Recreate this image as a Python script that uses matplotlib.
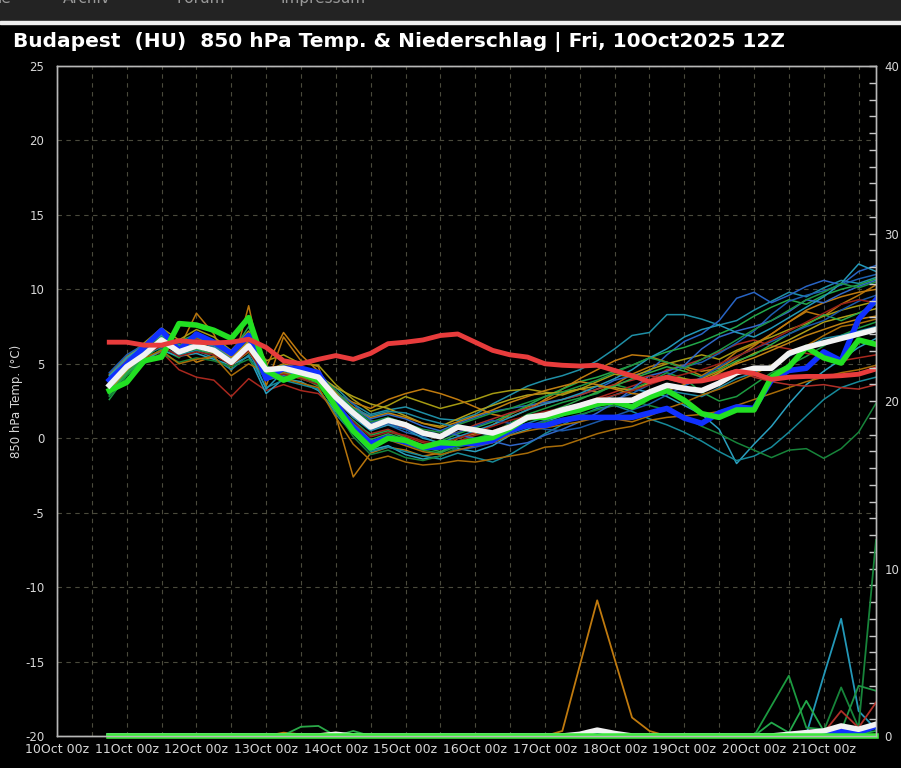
import matplotlib
matplotlib.use("Agg")
import matplotlib.pyplot as plt
import matplotlib.dates as mdates
from matplotlib.patches import Rectangle
from matplotlib.ticker import MultipleLocator
import pandas as pd

plt.rcParams["axes.unicode_minus"] = False

# 6-hourly steps, 10Oct 18z .. 21Oct 18z
times = pd.date_range("2025-10-10 18:00", "2025-10-21 18:00", freq="6h")

# 850 hPa temperature (deg C)
temp_clim = [6.45, 6.45, 6.25, 6.25, 6.55, 6.45, 6.4, 6.45, 6.65, 6.1, 5.2, 5.0, 5.3, 5.55, 5.3,
             5.7, 6.35, 6.45, 6.6, 6.9, 7.0, 6.45, 5.9, 5.6, 5.45, 5.0, 4.9, 4.85, 4.9, 4.55,
             4.2, 3.8, 4.1, 3.8, 3.85, 4.1, 4.5, 4.35, 3.95, 4.1, 4.15, 4.15, 4.2, 4.3, 4.65]
temp_mean = [3.55, 4.8, 5.6, 6.6, 5.8, 6.2, 5.9, 5.1, 6.2, 4.6, 4.7, 4.4, 4.1, 2.75, 1.7,
             0.75, 1.2, 0.9, 0.35, 0.1, 0.75, 0.55, 0.35, 0.75, 1.4, 1.55, 1.9, 2.2, 2.55, 2.55,
             2.55, 3.1, 3.55, 3.35, 3.2, 3.7, 4.4, 4.7, 4.7, 5.7, 6.1, 6.4, 6.7, 7.0, 7.3]
temp_oper = [3.9, 5.0, 6.1, 7.25, 5.9, 7.0, 6.45, 5.7, 6.9, 4.0, 4.7, 4.7, 4.4, 2.35, 0.75,
             -0.35, 0.05, -0.25, -0.6, -0.6, -0.35, -0.35, -0.15, 0.55, 0.85, 0.85, 1.2, 1.4, 1.4, 1.4,
             1.4, 1.7, 2.0, 1.35, 1.0, 1.7, 2.1, 2.0, 3.9, 4.55, 4.7, 5.8, 5.2, 8.0, 9.3]
temp_ctrl = [3.2, 3.75, 5.2, 5.45, 7.7, 7.6, 7.25, 6.7, 8.1, 4.55, 3.9, 4.35, 3.9, 2.1, 0.5,
             -0.65, 0.0, -0.15, -0.6, -0.3, -0.35, -0.15, 0.05, 0.65, 1.4, 1.4, 1.65, 1.9, 2.3, 2.45,
             2.1, 2.75, 3.2, 2.55, 1.65, 1.4, 1.9, 1.9, 4.1, 4.8, 6.1, 5.4, 5.05, 6.6, 6.3]

temp_members = [
    [4.3, 5.5, 6.2, 7.0, 6.0, 8.4, 7.0, 4.5, 8.9, 3.5, 6.8, 5.2, 4.8, 1.5, -2.6, -1.0, -0.6, -0.8, -1.2, -1.0, 0.0, 0.3, 0.9,
     1.6, 2.1, 2.5, 3.0, 3.3, 3.1, 3.6, 4.3, 4.8, 5.1, 4.7, 4.2, 4.9, 5.8, 6.3, 7.0, 7.8, 8.5, 8.2, 9.0, 9.6, 10.3],
    [3.8, 5.1, 6.0, 6.6, 6.3, 6.0, 5.6, 5.0, 5.8, 3.9, 4.9, 4.3, 4.2, 3.4, 2.3, 1.6, 1.9, 2.1, 1.7, 1.3, 1.2, 1.6, 2.3,
     2.9, 3.5, 3.9, 4.2, 4.6, 5.2, 6.0, 6.9, 7.1, 8.3, 8.3, 8.0, 7.6, 7.9, 8.6, 9.2, 9.8, 9.5, 10.1, 10.6, 10.4, 10.8],
    [2.6, 4.2, 5.2, 6.0, 5.4, 6.4, 6.0, 5.3, 6.6, 4.9, 4.1, 4.5, 3.8, 2.2, 0.8, -0.3, 0.2, -0.4, -0.8, -1.0, -0.5, -0.2, 0.4,
     1.0, 1.6, 2.0, 2.4, 2.7, 3.0, 3.6, 3.3, 3.8, 4.4, 4.0, 3.1, 2.5, 2.8, 3.6, 4.4, 4.9, 5.5, 6.2, 6.9, 7.4, 7.8],
    [4.1, 5.3, 6.1, 7.1, 6.2, 6.6, 6.4, 5.6, 6.8, 4.2, 4.5, 4.6, 4.3, 3.0, 1.9, 1.0, 1.4, 0.8, 0.3, 0.5, 1.0, 1.4, 1.8,
     2.0, 2.2, 2.4, 2.6, 2.9, 3.3, 3.9, 4.2, 4.5, 5.6, 6.5, 7.0, 7.9, 9.4, 9.8, 9.1, 9.6, 10.2, 10.6, 10.3, 11.2, 11.6],
    [3.4, 4.6, 5.3, 5.8, 4.6, 4.1, 3.9, 2.8, 4.0, 3.2, 3.6, 3.2, 3.0, 1.9, 0.9, 0.3, 0.6, 0.1, -0.3, -0.6, -0.2, 0.2, 0.5,
     0.9, 1.2, 1.5, 1.9, 2.3, 2.7, 3.1, 3.5, 3.9, 4.6, 4.9, 5.3, 5.8, 6.3, 6.6, 6.2, 6.0, 5.7, 5.5, 5.2, 5.4, 5.6],
    [3.9, 5.4, 6.4, 7.4, 6.6, 7.3, 6.8, 5.9, 7.2, 5.2, 5.6, 5.0, 4.9, 3.6, 2.6, 1.8, 2.2, 2.8, 2.4, 2.0, 2.3, 2.6, 3.0,
     3.2, 3.3, 3.1, 2.9, 3.3, 3.8, 4.3, 4.1, 4.6, 5.0, 5.3, 5.6, 5.3, 5.9, 6.4, 6.8, 7.3, 7.7, 8.2, 8.6, 8.9, 9.2],
    [3.1, 4.4, 5.2, 5.9, 5.5, 5.7, 5.3, 4.9, 5.5, 3.0, 4.0, 3.8, 3.2, 1.8, 0.4, -0.8, -0.5, -1.1, -1.4, -1.2, -0.7, -0.9, -0.5,
     0.2, 0.6, 1.1, 1.5, 2.0, 2.4, 2.9, 3.3, 3.1, 2.8, 2.2, 1.6, 0.6, -1.7, -0.4, 0.8, 2.3, 3.6, 4.5, 5.3, 6.1, 6.7],
    [3.7, 4.9, 5.8, 6.9, 6.0, 5.1, 5.5, 5.2, 6.3, 4.8, 7.1, 5.6, 4.5, 3.0, 2.4, 2.0, 2.6, 3.0, 3.3, 3.0, 2.6, 2.1, 1.6,
     1.4, 1.9, 2.6, 3.3, 4.0, 4.6, 5.2, 5.6, 5.5, 5.1, 4.8, 4.5, 4.7, 5.4, 6.2, 7.0, 7.8, 8.6, 9.1, 9.5, 9.8, 10.0],
    [2.9, 4.3, 5.4, 6.2, 6.5, 7.0, 6.5, 5.7, 7.5, 4.4, 4.3, 4.1, 3.5, 2.2, 1.2, 0.2, 0.5, 0.0, -0.5, -0.2, 0.3, 0.7, 1.1,
     1.6, 2.2, 2.8, 3.3, 3.8, 4.1, 4.5, 4.9, 5.4, 5.8, 6.1, 6.5, 7.0, 7.5, 8.2, 8.8, 9.3, 9.0, 9.6, 10.0, 10.3, 10.7],
    [4.4, 5.6, 6.3, 6.7, 6.4, 6.6, 6.1, 5.5, 6.4, 4.3, 4.6, 4.2, 3.9, 3.1, 2.3, 1.2, 0.9, 0.4, 0.1, -0.4, -0.8, -0.6, -0.3,
     0.3, 0.8, 1.2, 1.6, 1.9, 2.1, 2.6, 3.0, 3.6, 4.2, 4.8, 5.1, 5.7, 6.4, 7.2, 8.3, 9.2, 9.6, 9.9, 10.3, 10.7, 11.0],
    [3.3, 4.6, 5.6, 6.1, 5.6, 5.9, 5.4, 4.6, 5.6, 3.4, 3.9, 3.6, 3.3, 1.6, 0.3, -0.9, -0.6, -0.9, -1.2, -1.4, -1.0, -1.3, -1.6,
     -1.1, -0.4, 0.3, 0.9, 1.5, 2.0, 2.2, 1.8, 1.3, 0.9, 0.4, -0.2, -0.9, -1.5, -1.2, -0.6, 0.4, 1.5, 2.6, 3.4, 3.8, 4.1],
    [2.8, 4.0, 5.0, 5.7, 5.1, 5.4, 5.2, 4.8, 5.3, 4.0, 4.4, 4.0, 3.6, 1.9, 0.1, -1.1, -0.8, -1.3, -1.5, -1.2, -0.6, -0.3, 0.2,
     0.5, 0.8, 1.1, 1.3, 1.6, 1.9, 2.2, 2.5, 2.2, 1.9, 1.4, 0.8, 0.3, -0.3, -0.8, -1.3, -0.8, -0.7, -1.35, -0.7, 0.4, 2.35],
    [3.6, 4.7, 5.4, 5.9, 5.0, 5.3, 5.5, 4.2, 5.0, 4.4, 4.0, 3.7, 3.4, 1.4, -0.4, -1.5, -1.2, -1.6, -1.8, -1.7, -1.5, -1.6, -1.4,
     -1.2, -1.0, -0.6, -0.5, -0.1, 0.3, 0.6, 0.8, 1.2, 1.4, 1.5, 1.6, 1.8, 2.2, 2.6, 3.0, 3.4, 3.8, 4.1, 4.4, 4.6, 4.9],
    [3.5, 4.9, 5.7, 6.8, 5.9, 6.3, 6.0, 5.2, 6.2, 3.9, 4.2, 4.6, 4.4, 3.2, 2.0, 1.3, 1.6, 1.3, 0.8, 0.5, 0.2, 0.0, -0.2,
     -0.5, -0.3, 0.2, 0.6, 1.1, 1.7, 2.4, 3.3, 4.2, 4.5, 4.9, 6.0, 6.8, 7.2, 7.5, 7.9, 8.5, 9.3, 9.1, 9.7, 10.2, 10.6],
    [4.0, 5.2, 5.9, 6.5, 6.1, 6.7, 6.3, 5.4, 6.5, 4.7, 4.9, 4.5, 4.0, 2.5, 1.4, 0.6, 0.9, 0.7, 0.3, 0.1, 0.4, 0.9, 1.3,
     1.7, 2.0, 2.3, 2.6, 2.9, 3.3, 3.6, 3.9, 4.2, 4.0, 3.7, 3.9, 4.3, 4.6, 4.1, 3.8, 3.6, 3.5, 3.6, 3.4, 3.3, 3.6],
    [3.2, 4.5, 5.7, 7.3, 6.1, 6.8, 6.3, 5.4, 6.5, 4.4, 4.8, 4.6, 4.2, 3.4, 2.8, 2.3, 2.0, 1.5, 1.0, 0.8, 1.3, 1.8, 2.2,
     2.6, 2.9, 3.0, 3.1, 3.3, 3.5, 3.4, 3.2, 3.7, 4.2, 4.0, 3.8, 4.4, 5.1, 5.7, 6.1, 6.6, 7.2, 7.8, 8.1, 8.4, 8.7],
    [4.2, 5.4, 6.2, 6.9, 6.0, 6.1, 5.8, 5.1, 6.0, 3.3, 4.5, 4.2, 4.0, 2.6, 1.4, 0.5, 0.9, 0.6, 0.0, -0.3, 0.1, 0.5, 0.9,
     1.4, 1.9, 2.3, 2.6, 3.0, 3.5, 4.0, 4.6, 5.4, 6.0, 6.8, 7.3, 7.6, 7.1, 6.8, 7.4, 8.1, 8.8, 9.5, 10.4, 11.7, 11.2],
    [3.0, 4.4, 5.5, 6.4, 5.7, 6.0, 5.6, 5.0, 6.1, 4.1, 4.4, 4.0, 3.7, 2.4, 1.0, -0.1, 0.3, -0.1, -0.6, -0.9, -0.4, 0.0, 0.3,
     0.7, 1.2, 1.7, 2.1, 2.6, 3.1, 3.5, 4.0, 4.4, 4.8, 4.5, 4.1, 4.6, 5.2, 5.6, 6.3, 7.0, 7.6, 8.3, 7.9, 8.4, 9.0],
    [3.9, 5.0, 5.9, 6.7, 6.1, 6.4, 6.0, 5.4, 6.3, 4.5, 5.0, 4.7, 4.3, 3.1, 2.1, 1.4, 1.7, 1.4, 1.0, 0.7, 1.1, 1.5, 1.9,
     2.4, 2.8, 3.2, 3.5, 3.8, 3.6, 3.3, 3.0, 2.9, 3.2, 3.6, 4.0, 4.5, 5.0, 5.4, 5.9, 6.4, 6.9, 7.3, 7.7, 8.0, 8.2],
    [3.6, 4.8, 5.6, 6.4, 5.9, 6.2, 5.9, 5.0, 6.1, 4.5, 4.6, 4.3, 4.0, 2.7, 1.6, 0.6, 1.0, 0.6, 0.2, 0.0, 0.4, 0.8, 1.2,
     1.0, 0.8, 0.6, 0.5, 0.7, 1.1, 1.5, 1.9, 2.3, 2.9, 3.5, 4.1, 4.8, 5.5, 6.0, 6.5, 7.0, 7.5, 7.9, 8.6, 9.2, 9.6],
    [3.3, 4.7, 5.9, 6.5, 5.8, 6.5, 6.2, 5.3, 6.3, 4.2, 4.6, 4.3, 3.9, 2.9, 2.0, 1.5, 1.8, 1.7, 1.3, 1.0, 0.7, 0.4, 0.2,
     0.5, 1.0, 1.4, 1.8, 2.3, 2.6, 2.5, 2.4, 2.9, 3.2, 3.0, 2.8, 3.4, 4.0, 4.4, 4.9, 5.5, 6.1, 6.7, 6.9, 7.2, 7.5],
    [3.7, 5.0, 6.0, 6.8, 6.2, 6.8, 6.4, 5.6, 6.7, 4.6, 4.9, 4.5, 4.3, 3.2, 2.0, 1.1, 1.4, 1.0, 0.6, 0.4, 0.9, 1.3, 1.7,
     2.0, 2.4, 2.8, 3.1, 3.5, 3.9, 4.4, 4.9, 5.4, 5.1, 4.7, 5.3, 5.9, 6.6, 7.3, 7.9, 8.6, 9.3, 9.8, 10.4, 10.1, 10.5],
    [4.0, 5.2, 6.0, 6.6, 5.8, 6.2, 5.7, 4.9, 5.8, 4.2, 4.4, 4.1, 3.8, 2.3, 0.8, -0.4, -0.1, -0.5, -0.9, -1.1, -0.8, -0.5, -0.3,
     0.2, 0.5, 0.7, 0.9, 1.1, 1.4, 1.3, 1.1, 1.5, 2.0, 2.4, 2.9, 3.3, 3.8, 4.3, 4.9, 5.6, 6.2, 6.9, 7.5, 7.7, 8.0],
    [3.5, 4.8, 5.6, 6.2, 5.5, 5.8, 5.6, 4.9, 5.9, 4.0, 4.3, 4.0, 3.6, 2.3, 1.1, 0.1, 0.4, 0.2, -0.2, -0.4, 0.0, 0.4, 0.8,
     1.2, 1.5, 1.8, 2.0, 2.3, 2.6, 2.9, 3.2, 3.6, 4.0, 4.3, 4.6, 5.0, 5.5, 6.0, 6.6, 7.2, 7.8, 8.4, 9.0, 9.3, 9.1],
]
member_colors = ["#b8750c", "#1f8fa6", "#1c9a40", "#2864c4", "#a8281e", "#a59a12",
                 "#2aa0c0", "#c07a0e", "#22a84a", "#1d5fb0", "#178a9a", "#17843a",
                 "#a86c08", "#3068c8", "#b03028", "#b0a018", "#2398b8", "#2aa848",
                 "#c08012", "#1a58a8", "#1c88a0", "#1e9444", "#a86c08", "#982018"]

# precipitation (mm), only the members that are not dry
precip_members = {
    7: [0, 0, 0, 0, 0, 0, 0, 0, 0, 0, 0.2, 0.1, 0.1, 0.2, 0, 0, 0, 0, 0, 0, 0, 0, 0,
        0, 0, 0, 0.3, 4.2, 8.1, 4.6, 1.1, 0.3, 0, 0, 0, 0, 0, 0, 0, 0, 0, 0, 0, 0, 0],
    16: [0, 0, 0, 0, 0, 0, 0, 0, 0, 0, 0, 0, 0, 0, 0, 0, 0, 0, 0, 0, 0, 0, 0,
         0, 0, 0, 0, 0, 0, 0, 0, 0, 0, 0, 0, 0, 0, 0, 0, 0, 0.1, 3.6, 7.0, 1.5, 0.4],
    2: [0, 0, 0, 0, 0, 0, 0, 0, 0, 0, 0, 0, 0, 0, 0, 0, 0, 0, 0, 0, 0, 0, 0,
        0, 0, 0, 0, 0, 0, 0, 0, 0, 0, 0, 0, 0, 0, 0, 1.8, 3.6, 0.5, 0.4, 0.6, 0.3, 0.5],
    8: [0, 0, 0, 0, 0, 0, 0, 0, 0, 0, 0, 0, 0, 0, 0, 0, 0, 0, 0, 0, 0, 0, 0,
        0, 0, 0, 0, 0, 0, 0, 0, 0, 0, 0, 0, 0, 0, 0, 0.8, 0.2, 2.1, 0.3, 0.2, 0.1, 0.3],
    11: [0, 0, 0, 0, 0, 0, 0, 0, 0, 0, 0, 0, 0, 0, 0, 0, 0, 0, 0, 0, 0, 0, 0,
         0, 0, 0, 0, 0, 0, 0, 0, 0, 0, 0, 0, 0, 0, 0, 0, 0, 0, 0.3, 2.9, 0.5, 11.7],
    21: [0, 0, 0, 0, 0, 0, 0, 0, 0, 0, 0, 0, 0, 0, 0, 0, 0, 0, 0, 0, 0, 0, 0,
         0, 0, 0, 0, 0, 0, 0, 0, 0, 0, 0, 0, 0, 0, 0, 0, 0, 0, 0, 0.3, 3.0, 2.7],
    17: [0, 0, 0, 0, 0, 0, 0, 0, 0, 0, 0.05, 0.55, 0.6, 0, 0.3, 0, 0, 0, 0, 0, 0, 0, 0,
         0, 0, 0, 0, 0, 0, 0, 0, 0, 0, 0, 0, 0, 0.1, 0, 0, 0, 0, 0, 0, 0, 0],
    14: [0, 0, 0, 0, 0, 0, 0, 0, 0, 0, 0, 0, 0, 0, 0, 0, 0, 0, 0, 0, 0, 0, 0,
         0, 0, 0, 0, 0, 0, 0, 0, 0, 0, 0, 0, 0, 0, 0, 0, 0, 0, 0.2, 1.5, 0.5, 2.0],
}
precip_mean = [0, 0, 0, 0, 0, 0, 0, 0, 0, 0, 0, 0, 0, 0.1, 0, 0, 0, 0, 0, 0, 0, 0, 0,
               0, 0, 0, 0, 0.1, 0.35, 0.15, 0, 0, 0, 0, 0, 0, 0, 0, 0, 0.1, 0.2, 0.3, 0.6, 0.4, 0.7]
precip_oper = [0, 0, 0, 0, 0, 0, 0, 0, 0, 0, 0, 0, 0, 0, 0, 0, 0, 0, 0, 0, 0, 0, 0,
               0, 0, 0, 0, 0, 0, 0, 0, 0, 0, 0, 0, 0, 0, 0, 0, 0, 0, 0.1, 0.3, 0.2, 0.6]
precip_ctrl = [0, 0, 0, 0, 0, 0, 0, 0, 0, 0, 0, 0, 0, 0, 0, 0, 0, 0, 0, 0, 0, 0, 0,
               0, 0, 0, 0, 0, 0, 0, 0, 0, 0, 0, 0, 0, 0, 0, 0, 0, 0, 0, 0, 0, 0]

title = "Budapest  (HU)  850 hPa Temp. & Niederschlag | Fri, 10Oct2025 12Z"

fig = plt.figure(figsize=(9.01, 7.68), dpi=100, facecolor="black")

# page header strip (menu of the web page, mostly scrolled out)
fig.add_artist(Rectangle((0, 1 - 20 / 768), 1, 20 / 768, transform=fig.transFigure,
                         color="#232323", zorder=0))
fig.add_artist(Rectangle((0, 1 - 24 / 768), 1, 3 / 768, transform=fig.transFigure,
                         color="#eeeeee", zorder=0))
for xm, word in [(-2, "ie"), (63, "Archiv"), (176, "Forum"), (280, "Impressum")]:
    fig.text(xm / 901, 1 - 3 / 768, word, color="#9a9a9a", fontsize=11, va="baseline")

fig.text(13 / 901, 1 - 42 / 768, title, color="white", fontsize=14.5, fontweight="bold",
         va="center", ha="left")

ax = fig.add_axes([57 / 901, 1 - 736 / 768, (876 - 57) / 901, (736 - 66) / 768])
ax.set_facecolor("black")
ax2 = ax.twinx()

for vals, col in zip(temp_members, member_colors):
    ax.plot(times, vals, color=col, lw=1.1, zorder=2)
ax.plot(times, temp_oper, color="#1030ff", lw=4, zorder=3)
ax.plot(times, temp_ctrl, color="#22e022", lw=4, zorder=4)
ax.plot(times, temp_mean, color="#f2f2f2", lw=4, zorder=5)
ax.plot(times, temp_clim, color="#e83c3c", lw=3.5, zorder=6)

for idx, vals in precip_members.items():
    ax2.plot(times, vals, color=member_colors[idx], lw=1.3)
ax2.plot(times, precip_oper, color="#1030ff", lw=4)
ax2.plot(times, precip_mean, color="#f2f2f2", lw=4)
ax2.plot(times, precip_ctrl, color="#3ee83e", lw=4, clip_on=False)

ax.set_ylim(-20, 25)
ax.set_yticks(range(-20, 26, 5))
ax.set_xlim(pd.Timestamp("2025-10-10 00:00"), pd.Timestamp("2025-10-21 18:00"))
ax.xaxis.set_major_locator(mdates.DayLocator())
ax.xaxis.set_minor_locator(mdates.HourLocator(byhour=[12]))
ax.xaxis.set_major_formatter(mdates.DateFormatter("%d%b %Hz"))
ax.grid(True, which="both", color="#4a4a3c", linestyle=(0, (4, 4)), lw=0.8)
ax.tick_params(axis="both", which="both", length=0, colors="#d8d8d8")
ax.tick_params(axis="y", labelsize=8.5, pad=9)
ax.tick_params(axis="x", labelsize=9, pad=5)
ax.set_axisbelow(True)

ax2.set_ylim(0, 40)
ax2.set_yticks([0, 10, 20, 30, 40])
ax2.yaxis.set_minor_locator(MultipleLocator(1))
ax2.tick_params(axis="y", which="both", direction="in", length=5, width=1,
                color="#c8c8c8", labelcolor="#d8d8d8", labelsize=8.5, pad=6)

for a in (ax, ax2):
    for sp in a.spines.values():
        sp.set_color("#b8b8b8")
        sp.set_linewidth(1)

fig.text(17 / 901, 1 - 401 / 768, "850 hPa Temp. (°C)", rotation=90, color="#d8d8d8",
         fontsize=8.5, va="center", ha="center")

fig.savefig("out.png", dpi=100, facecolor="black")
